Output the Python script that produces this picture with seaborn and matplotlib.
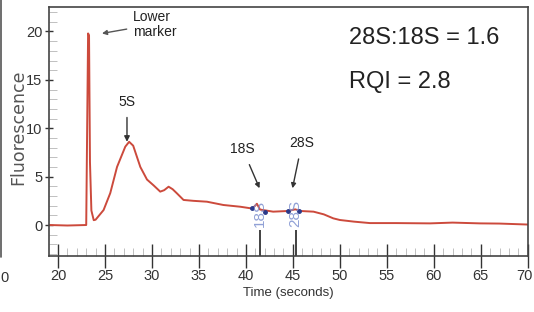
import matplotlib
matplotlib.use("Agg")
import matplotlib.pyplot as plt
from matplotlib.ticker import MultipleLocator
from matplotlib.transforms import ScaledTranslation
import seaborn as sns
import pandas as pd

# ---- data ----
time_s = [19.1, 21.0, 23.0, 23.08, 23.2, 23.3, 23.4, 23.55, 23.8, 24.0, 24.85,
          25.56, 26.28, 27.16, 27.57, 28.0, 28.76, 29.47, 30.17, 30.88, 31.3,
          31.77, 32.2, 32.66, 33.36, 34.4, 35.85, 37.6, 39.4, 40.7, 41.17, 41.5,
          42.9, 44.5, 45.25, 45.8, 47.2, 48.3, 49.3, 50.0, 51.5, 53.2, 56.0,
          59.6, 62.0, 64.9, 67.0, 70.0]
fluor = [0.0, -0.05, 0.0, 8.0, 19.8, 19.6, 6.5, 1.5, 0.5, 0.55, 1.55,
         3.3, 6.0, 8.1, 8.6, 8.2, 6.0, 4.7, 4.1, 3.45, 3.6,
         3.96, 3.7, 3.27, 2.59, 2.5, 2.41, 2.07, 1.89, 1.7, 2.2, 1.6,
         1.38, 1.45, 1.62, 1.45, 1.38, 1.1, 0.69, 0.52, 0.35, 0.2, 0.2,
         0.17, 0.25, 0.17, 0.15, 0.05]

x_ticks = [20, 25, 30, 35, 40, 45, 50, 55, 60, 65, 70]
y_ticks = [0, 5, 10, 15, 20]
band_names = ["18S", "28S"]
band_times = [41.45, 45.3]
band_edges_t = [40.6, 42.05, 44.5, 45.6]
band_edges_f = [1.75, 1.35, 1.45, 1.5]
ratio_text = "28S:18S = 1.6"
rqi_text = "RQI = 2.8"

df = pd.DataFrame({"Time (seconds)": time_s, "Fluorescence": fluor})

sns.set_style("white")
plt.rcParams["font.family"] = ["Liberation Sans", "DejaVu Sans"]

fig = plt.figure(figsize=(5.34, 3.12), dpi=100)
ax = fig.add_axes([49.3 / 534, 1 - 255.5 / 312, (527.7 - 49.3) / 534, (255.5 - 7.3) / 312])

sns.lineplot(data=df, x="Time (seconds)", y="Fluorescence", ax=ax,
             color="#cc4a3c", linewidth=1.4, estimator=None, sort=False)

ax.set_xlim(19.07, 70)
ax.set_ylim(-3.15, 22.5)

# peak boundary markers and band ticks
ax.plot(band_edges_t, band_edges_f, linestyle="none", marker="o",
        markersize=2.5, color="#2b3a8a")
ax.vlines(band_times, -3.15, -0.5, color="#333333", linewidth=1.3)
for name, t in zip(band_names, band_times):
    ax.text(t, 1.2, name, rotation=90, ha="center", va="center",
            fontsize=11, color="#7d90cf", alpha=0.85)

# spines
for s in ax.spines.values():
    s.set_color("#444444")
    s.set_linewidth(1.2)

ax.set_xticks(x_ticks)
ax.set_yticks(y_ticks)
ax.xaxis.set_minor_locator(MultipleLocator(1))
ax.yaxis.set_minor_locator(MultipleLocator(1))
ax.tick_params(which="both", bottom=True, left=True, top=False, right=False)
ax.tick_params(axis="x", which="major", direction="inout", length=17,
               width=1.0, color="#333333", pad=1)
ax.tick_params(axis="y", which="major", direction="inout", length=6,
               width=1.0, color="#333333", pad=2)
ax.tick_params(which="minor", direction="in", length=6, width=0.7,
               color="#c0c0c0")

for lab in ax.get_xticklabels() + ax.get_yticklabels():
    lab.set_fontsize(10.5)
    lab.set_color("#333333")

# nudge the last x tick label so it stays inside the canvas
last_label = ax.xaxis.get_major_ticks()[-1].label1
last_label.set_transform(last_label.get_transform() +
                         ScaledTranslation(-3 / 100, 0, fig.dpi_scale_trans))

ax.set_xlabel("Time (seconds)", fontsize=9.5, color="#333333", labelpad=3)
ax.set_ylabel("")
fig.text(18 / 534, 1 - 127 / 312, "Fluorescence", rotation=90, ha="center",
         va="center", family=["DejaVu Sans"], fontsize=12.5, color="#555555")

# annotations
ann_kw = dict(fontsize=10, color="#222222")
ax.annotate("Lower\nmarker", xy=(24.68, 19.8), xytext=(27.95, 20.75),
            ha="left", va="center", linespacing=1.1,
            arrowprops=dict(arrowstyle="-|>", color="#555555", lw=1.0,
                            mutation_scale=7, shrinkA=2, shrinkB=0), **ann_kw)
ax.annotate("5S", xy=(27.34, 8.6), xytext=(27.34, 12.75), ha="center",
            va="center",
            arrowprops=dict(arrowstyle="-|>", color="#333333", lw=1.0,
                            mutation_scale=8, shrinkA=4, shrinkB=0), **ann_kw)
ax.annotate("18S", xy=(41.45, 3.8), xytext=(39.66, 7.83), ha="center",
            va="center",
            arrowprops=dict(arrowstyle="-|>", color="#333333", lw=1.0,
                            mutation_scale=7, shrinkA=4, shrinkB=0), **ann_kw)
ax.annotate("28S", xy=(44.96, 3.8), xytext=(45.96, 8.45), ha="center",
            va="center",
            arrowprops=dict(arrowstyle="-|>", color="#333333", lw=1.0,
                            mutation_scale=7, shrinkA=4, shrinkB=0), **ann_kw)

fig.text(349 / 534, 1 - 38.5 / 312, ratio_text, ha="left", va="center",
         fontsize=17, color="#222222")
fig.text(349 / 534, 1 - 82.5 / 312, rqi_text, ha="left", va="center",
         fontsize=17, color="#222222")

# cut-off neighbouring panel at the left edge
fig.add_artist(plt.Line2D([1.2 / 534, 1.2 / 534], [1 - 257 / 312, 1.0],
                          color="#555555", linewidth=1.2))
fig.text(0.5 / 534, 1 - 278 / 312, "0", ha="left", va="center",
         fontsize=10.5, color="#333333")

fig.savefig("out.png", dpi=100)
